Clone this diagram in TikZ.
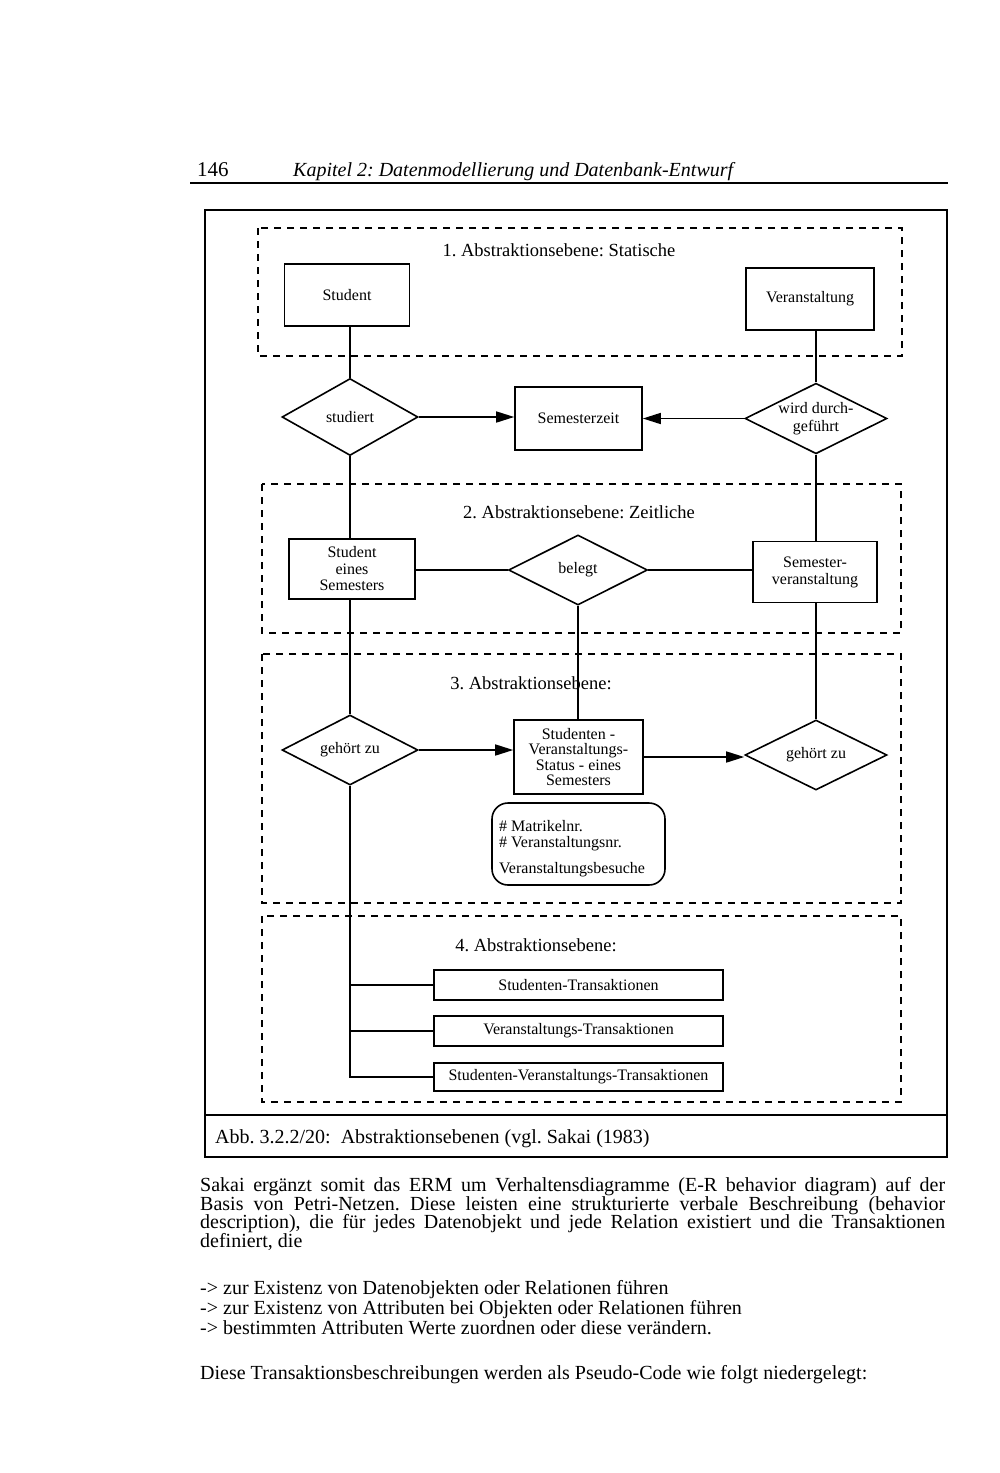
\documentclass[tikz,border=0pt]{standalone}
\usepackage{fontspec}
\setmainfont{Liberation Serif}
\usetikzlibrary{arrows.meta,shapes.geometric}
\newcommand\fsz[2]{\fontsize{#1}{#2}\selectfont}
\newcommand\jline[1]{\makebox[745pt][s]{#1}}
\frenchspacing
\begin{document}
\begin{tikzpicture}[x=1pt,y=-1pt,
  ent/.style={draw,line width=1.6pt,inner sep=0pt,align=center,font=\fsz{16}{17}},
  rel/.style={draw,diamond,aspect=2,line width=1.6pt,inner sep=0pt,align=center,font=\fsz{16}{17}},
  trans/.style={draw,line width=1.6pt,inner sep=0pt,minimum width=289pt,minimum height=30pt,font=\fsz{16}{17}},
  level/.style={draw,line width=1.8pt,dash pattern=on 7pt off 6pt},
  ltitle/.style={font=\fsz{18.5}{20}},
  conn/.style={line width=1.6pt},
  arr/.style={line width=1.6pt,-{Triangle[length=18pt,width=11pt]}},
  body/.style={font=\fsz{20}{18.8},inner sep=0pt}
]
\useasboundingbox (0,0) rectangle (1000,1473);
\fill[white] (0,0) rectangle (1000,1473);

% header
\node[anchor=base west,inner sep=0pt,font=\fsz{21}{22}] (pnum) at (197,176) {146};
\node[anchor=base west,inner sep=0pt,font=\fsz{20}{22}\itshape] (head) at (293,176) {Kapitel 2: Datenmodellierung und Datenbank-Entwurf};
\coordinate (hr1) at (190,183);
\coordinate (hr2) at (948,183);
\draw[line width=1.5pt] (hr1) -- (hr2);

% outer frame
\draw[line width=2pt] (205,210) rectangle (947,1157);
\coordinate (cap1) at (205,1115);
\coordinate (cap2) at (947,1115);
\draw[line width=2.5pt] (cap1) -- (cap2);
\node[anchor=base west,inner sep=0pt,font=\fsz{20}{21}] (caption) at (215,1143) {Abb. 3.2.2/20: \ Abstraktionsebenen (vgl. Sakai (1983)};

% level frames
\draw[level] (258,228) rectangle (902,356);
\draw[level] (262,484) rectangle (901,633);
\draw[level] (262,654) rectangle (901,903);
\draw[level] (262,916) rectangle (901,1102);

\node[ltitle] (t1) at (559,250) {1. Abstraktionsebene: Statische};
\node[ltitle] (t2) at (579,512) {2. Abstraktionsebene: Zeitliche};
\node[ltitle] (t3) at (531,683) {3. Abstraktionsebene:};
\node[ltitle] (t4) at (536,945) {4. Abstraktionsebene:};

% level 1
\node[ent,minimum width=125pt,minimum height=62pt] (student) at (347,295) {Student};
\node[ent,minimum width=128pt,minimum height=62pt] (veran) at (810,299) {Veranstaltung};

% relations between 1 and 2
\node[rel,minimum width=136pt,minimum height=77pt] (studiert) at (350,417) {studiert};
\node[ent,minimum width=127pt,minimum height=63pt] (semzeit) at (578.5,418.5) {Semesterzeit};
\node[rel,minimum width=142pt,minimum height=69pt,font=\fsz{16}{18.5}] (wird) at (816,418.5) {wird durch-\\geführt};

% level 2
\node[ent,minimum width=126pt,minimum height=60pt,font=\fsz{16}{16.5}] (ses) at (352,569) {Student\\eines\\Semesters};
\node[rel,minimum width=139pt,minimum height=70pt] (belegt) at (578,570) {belegt};
\node[ent,minimum width=124pt,minimum height=61pt] (semver) at (815,572) {Semester-\\veranstaltung};

% level 3
\node[rel,minimum width=136pt,minimum height=70pt] (gz1) at (350,750) {gehört zu};
\node[ent,minimum width=129pt,minimum height=74pt,font=\fsz{16}{15.5}] (status) at (578.5,757) {Studenten -\\Veranstaltungs-\\Status - eines\\Semesters};
\node[rel,minimum width=142pt,minimum height=70pt] (gz2) at (816,755) {gehört zu};
\node[draw,line width=1.6pt,rounded corners=16pt,minimum width=173pt,minimum height=82pt,inner sep=0pt] (attrbox) at (578.5,844) {};
\node[anchor=north west,align=left,inner sep=0pt,font=\fsz{16}{16}] (attr) at (499,820) {\# Matrikelnr.\\\# Veranstaltungsnr.\\[10pt]Veranstaltungsbesuche};

% level 4
\node[trans] (st) at (578.5,985) {Studenten-Transaktionen};
\node[trans] (vt) at (578.5,1031) {Veranstaltungs-Transaktionen};
\node[trans,minimum height=28pt] (svt) at (578.5,1077) {Studenten-Veranstaltungs-Transaktionen};

% connectors
\draw[conn] (studiert.north) -- (studiert.north |- student.south);
\draw[conn] (studiert.south) -- (studiert.south |- ses.north);
\draw[conn] (wird.north) -- (wird.north |- veran.south);
\draw[conn] (wird.south) -- (wird.south |- semver.north);
\draw[arr] (studiert.east) -- (studiert.east -| semzeit.west);
\draw[arr] (wird.west) -- (wird.west -| semzeit.east);
\draw[conn] (belegt.west) -- (belegt.west -| ses.east);
\draw[conn] (belegt.east) -- (belegt.east -| semver.west);
\draw[conn] (gz1.north) -- (gz1.north |- ses.south);
\draw[conn] (belegt.south) -- (belegt.south |- status.north);
\draw[conn] (gz2.north) -- (gz2.north |- semver.south);
\draw[arr] (gz1.east) -- (gz1.east -| status.west);
\draw[arr] (status.east) -- (status.east -| gz2.west);
\coordinate (bus) at (gz1.south |- svt.west);
\draw[conn] (gz1.south) -- (bus) -- (svt.west);
\draw[conn] (gz1.south |- st.west) -- (st.west);
\draw[conn] (gz1.south |- vt.west) -- (vt.west);

% body text
\node[body,anchor=north west,align=left] (para) at (200,1177) {\jline{Sakai ergänzt somit das ERM um Verhaltensdiagramme (E-R behavior diagram) auf der}\\\jline{Basis von Petri-Netzen. Diese leisten eine strukturierte verbale Beschreibung (behavior}\\\jline{description), die für jedes Datenobjekt und jede Relation existiert und die Transaktionen}\\definiert, die};
\node[body,anchor=north west,align=left,font=\fsz{20}{20}] (list) at (200,1280) {-> zur Existenz von Datenobjekten oder Relationen führen\\-> zur Existenz von Attributen bei Objekten oder Relationen führen\\-> bestimmten Attributen Werte zuordnen oder diese verändern.};
\node[body,anchor=north west] (last) at (200,1365) {Diese Transaktionsbeschreibungen werden als Pseudo-Code wie folgt niedergelegt:};
\end{tikzpicture}
\end{document}
